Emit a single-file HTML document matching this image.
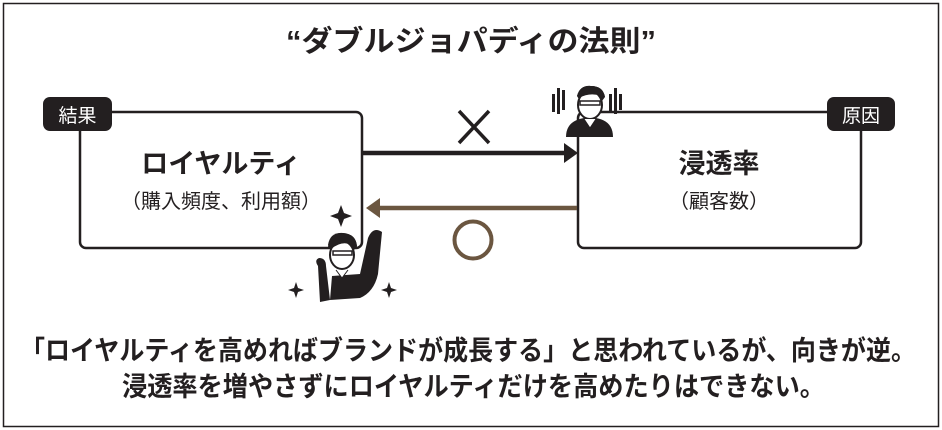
<!DOCTYPE html>
<html><head><meta charset="utf-8"><style>
html,body{margin:0;padding:0;background:#fff}
svg{display:block}
text{font-family:"Liberation Sans","Noto Sans CJK JP",sans-serif}
</style></head><body>
<svg width="942" height="430" viewBox="0 0 942 430" xmlns="http://www.w3.org/2000/svg">
<rect x="3.5" y="3.5" width="935" height="423" fill="#fff" stroke="#231f20" stroke-width="1.5"/>
<text x="286" y="51" font-size="29" font-weight="bold" fill="#231f20" textLength="370" lengthAdjust="spacingAndGlyphs">“ダブルジョパディの法則”</text>

<!-- left box -->
<rect x="80" y="112" width="282" height="136" rx="6" fill="#fff" stroke="#231f20" stroke-width="2.5"/>
<rect x="43" y="97" width="69" height="34" rx="7" fill="#231f20"/>
<text x="77.5" y="122" font-size="19" fill="#fff" text-anchor="middle">結果</text>
<text x="221" y="173" font-size="27" font-weight="bold" text-anchor="middle" fill="#231f20">ロイヤルティ</text>
<text x="221" y="208" font-size="20" text-anchor="middle" fill="#231f20">（購入頻度、利用額）</text>

<!-- right box -->
<rect x="578" y="112" width="283" height="136" rx="6" fill="#fff" stroke="#231f20" stroke-width="2.5"/>
<rect x="827" y="97" width="68" height="34" rx="7" fill="#231f20"/>
<text x="861" y="122" font-size="19" fill="#fff" text-anchor="middle">原因</text>
<text x="719" y="173" font-size="27" font-weight="bold" text-anchor="middle" fill="#231f20">浸透率</text>
<text x="719" y="208" font-size="20" text-anchor="middle" fill="#231f20">（顧客数）</text>

<!-- arrows -->
<line x1="363" y1="153" x2="566" y2="153" stroke="#231f20" stroke-width="4.5"/>
<polygon points="564,143 578,153 564,163" fill="#231f20"/>
<line x1="577" y1="208" x2="378" y2="208" stroke="#6b5640" stroke-width="4.5"/>
<polygon points="380,198 366,208 380,218" fill="#6b5640"/>
<path d="M459 111 L489 143 M489 111 L459 143" stroke="#231f20" stroke-width="3.5"/>
<circle cx="473" cy="240" r="18.5" fill="none" stroke="#6b5640" stroke-width="4"/>

<!-- worried person top -->
<g fill="#231f20">
<rect x="552" y="94" width="3" height="18"/><rect x="557" y="88" width="3" height="26"/><rect x="562" y="90" width="3" height="20"/>
<rect x="609" y="94" width="3" height="18"/><rect x="614" y="88" width="3" height="26"/><rect x="619" y="94" width="3" height="16"/>
<path d="M566 137 Q566 121 584 118 L596 118 Q613 121 613 137 Z"/>
<path d="M577 96 Q580 85 591 86 Q603 86 605 97 L602 101 L580 101 Z"/>
</g>
<ellipse cx="590" cy="105" rx="12" ry="14" fill="#fff" stroke="#231f20" stroke-width="2"/>
<path d="M577 96 Q580 85 591 86 Q603 86 605 97 L601 96 Q590 92 579 98 Z" fill="#231f20"/>
<rect x="580" y="101" width="20" height="4" fill="none" stroke="#231f20" stroke-width="1.5"/>
<path d="M584 119 L590 128 L596 119" fill="#fff" stroke="#231f20" stroke-width="1"/>

<!-- happy person bottom -->
<g fill="#231f20">
<path d="M341 205 l3 8 8 3 -8 3 -3 8 -3 -8 -8 -3 8 -3 z"/>
<path d="M296 282 l2 6 6 2 -6 2 -2 6 -2 -6 -6 -2 6 -2 z"/>
<path d="M389 282 l2 6 6 2 -6 2 -2 6 -2 -6 -6 -2 6 -2 z"/>
<path d="M318 266 Q314 260 319 258 Q326 258 326 266 L330 300 L320 302 Z"/>
<path d="M368 238 Q373 226 382 232 L378 274 Q374 292 360 298 L330 300 L332 276 L360 274 Z"/>
<path d="M328 245 Q330 232 343 233 Q356 234 357 246 L354 250 L331 250 Z"/>
</g>
<ellipse cx="342" cy="255" rx="12" ry="14" fill="#fff" stroke="#231f20" stroke-width="2"/>
<path d="M328 247 Q330 232 343 233 Q356 234 357 247 L352 245 Q342 240 331 249 Z" fill="#231f20"/>
<rect x="333" y="251" width="19" height="4" fill="none" stroke="#231f20" stroke-width="1.5"/>
<path d="M336 270 L342 278 L348 270" fill="#fff" stroke="#231f20" stroke-width="1"/>

<!-- bottom text -->
<text x="20" y="360" font-size="27" font-weight="bold" fill="#231f20" textLength="896" lengthAdjust="spacingAndGlyphs">「ロイヤルティを高めればブランドが成長する」と思われているが、向きが逆。</text>
<text x="122" y="396" font-size="27" font-weight="bold" fill="#231f20" textLength="703" lengthAdjust="spacingAndGlyphs">浸透率を増やさずにロイヤルティだけを高めたりはできない。</text>
</svg>
</body></html>
